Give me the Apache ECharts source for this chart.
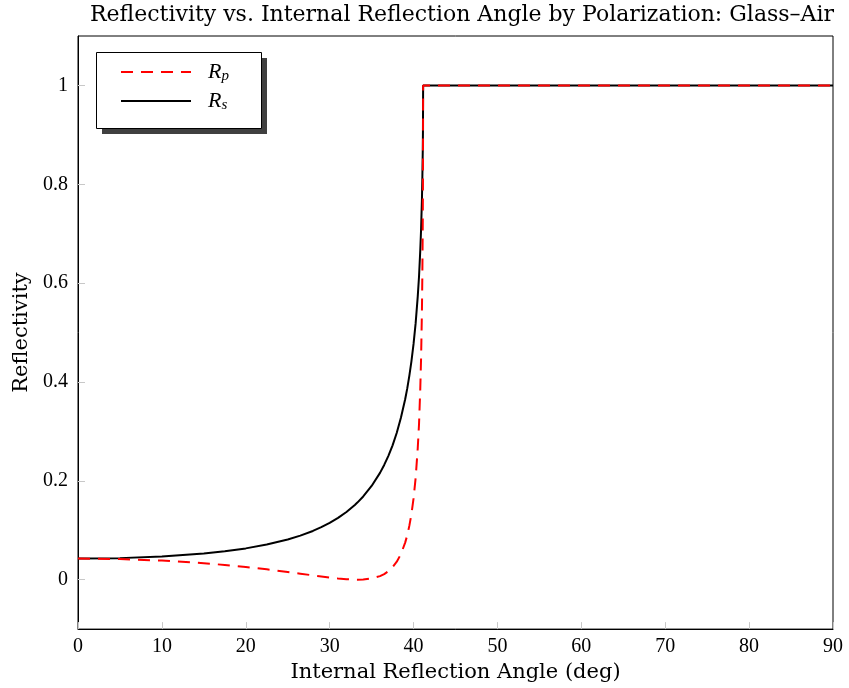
<!DOCTYPE html>
<html>
<head>
<meta charset="utf-8">
<script src="https://cdn.jsdelivr.net/npm/echarts@6/dist/echarts.min.js"></script>
<style>html,body{margin:0;padding:0;background:#fff;}#c{width:849px;height:688px;}</style>
</head>
<body>
<div id="c"></div>
<script>
// Angles (deg)
var angles = [0, 5, 10, 15, 17.5, 20, 22.5, 25, 26.5, 28, 29, 30, 31, 32, 33, 33.3, 34, 35, 36, 36.5, 37, 37.5, 38, 38.5, 39, 39.25, 39.5, 39.75, 40, 40.25, 40.5, 40.65, 40.8, 40.9, 41, 41.05, 41.1, 41.12, 41.14, 90];
// s-polarized reflectivity
var rsValues = [0.0426, 0.0436, 0.0468, 0.0528, 0.0574, 0.0633, 0.0710, 0.0813, 0.0891, 0.0986, 0.1062, 0.1149, 0.1250, 0.1370, 0.1512, 0.1560, 0.1684, 0.1896, 0.2161, 0.2322, 0.2506, 0.2718, 0.2973, 0.3280, 0.3650, 0.3870, 0.4127, 0.4420, 0.4770, 0.5190, 0.5733, 0.6130, 0.6663, 0.7100, 0.7706, 0.8150, 0.8711, 0.9071, 1.0, 1.0];
// p-polarized reflectivity
var rpValues = [0.0426, 0.0416, 0.0386, 0.0333, 0.0298, 0.0257, 0.0209, 0.0156, 0.0122, 0.0087, 0.0065, 0.0043, 0.0024, 0.0009, 0.0001, 0.0, 0.0003, 0.0023, 0.0072, 0.0113, 0.0171, 0.0253, 0.0363, 0.0520, 0.0750, 0.0900, 0.1093, 0.1330, 0.1646, 0.2060, 0.2663, 0.3140, 0.3858, 0.4500, 0.5456, 0.6200, 0.7266, 0.7982, 1.0, 1.0];
var yTicks = [0, 0.2, 0.4, 0.6, 0.8, 1];
var xTicks = [0, 10, 20, 30, 40, 50, 60, 70, 80, 90];

var FONT = '"Liberation Serif", "Times New Roman", serif';
var WFONT = '"DejaVu Serif", "Liberation Serif", serif';
function pairs(xs, ys) { return xs.map(function (x, i) { return [x, ys[i]]; }); }

var chart = echarts.init(document.getElementById('c'), null, { renderer: 'canvas' });
chart.setOption({
  backgroundColor: '#ffffff',
  animation: false,
  title: {
    text: 'Reflectivity vs. Internal Reflection Angle by Polarization: Glass\u2013Air',
    left: 462, top: 4, textAlign: 'center', padding: 0,
    textStyle: { fontFamily: WFONT, fontWeight: 'normal', fontSize: 22, color: '#000' }
  },
  graphic: [
    { type: 'rect', z: 100, left: 102, top: 58, shape: { width: 165, height: 76 }, style: { fill: '#404040' } },
    { type: 'rect', z: 101, left: 96, top: 52, shape: { width: 165, height: 76 }, style: { fill: '#ffffff', stroke: '#000000', lineWidth: 1 } }
  ],
  legend: {
    orient: 'vertical',
    left: 96, top: 52, z: 110,
    padding: [9, 10, 10, 24],
    itemWidth: 70, itemHeight: 20, itemGap: 6,
    backgroundColor: 'transparent',
    itemStyle: { opacity: 0 },
    data: ['Rp', 'Rs'],
    formatter: function (name) { return '{r|R}{s|' + name.charAt(1) + '}'; },
    textStyle: {
      rich: {
        r: { fontFamily: FONT, fontStyle: 'italic', fontSize: 22, color: '#000', padding: [0, 0, 0, 12], lineHeight: 24 },
        s: { fontFamily: FONT, fontStyle: 'italic', fontSize: 15, color: '#000', lineHeight: 14, verticalAlign: 'bottom' }
      }
    }
  },
  grid: { left: 78, right: 16, top: 36, bottom: 57, show: true, borderColor: '#000', borderWidth: 1, backgroundColor: 'transparent' },
  xAxis: {
    type: 'value', min: 0, max: 90, interval: 10,
    name: 'Internal Reflection Angle (deg)', nameLocation: 'middle', nameGap: 26,
    nameTextStyle: { fontFamily: WFONT, fontSize: 21, color: '#000' },
    axisLine: { show: true, onZero: false, lineStyle: { color: '#000', width: 1 } },
    axisTick: { show: true, inside: true, length: 7, lineStyle: { color: '#c8c8c8', width: 1 } },
    axisLabel: { fontFamily: FONT, fontSize: 20, color: '#000', margin: 8, customValues: xTicks },
    splitLine: { show: false }
  },
  yAxis: {
    type: 'value', min: -0.1, max: 1.1,
    name: 'Reflectivity', nameLocation: 'middle', nameGap: 46, nameRotate: 90,
    nameTextStyle: { fontFamily: WFONT, fontSize: 21, color: '#000' },
    axisLine: { show: true, onZero: false, lineStyle: { color: '#000', width: 1 } },
    axisTick: { show: true, inside: true, length: 7, lineStyle: { color: '#c8c8c8', width: 1 }, customValues: yTicks },
    axisLabel: { fontFamily: FONT, fontSize: 20, color: '#000', margin: 10, customValues: yTicks },
    splitLine: { show: false }
  },
  series: [
    {
      name: 'Rs', type: 'line', data: pairs(angles, rsValues),
      symbol: 'none', smooth: false,
      lineStyle: { color: '#000000', width: 2 }, itemStyle: { color: '#000000' }
    },
    {
      name: 'Rp', type: 'line', data: pairs(angles, rpValues),
      symbol: 'none', smooth: false,
      lineStyle: { color: '#ff0000', width: 2, type: [12, 8] }, itemStyle: { color: '#ff0000' }
    }
  ]
});
</script>
</body>
</html>
